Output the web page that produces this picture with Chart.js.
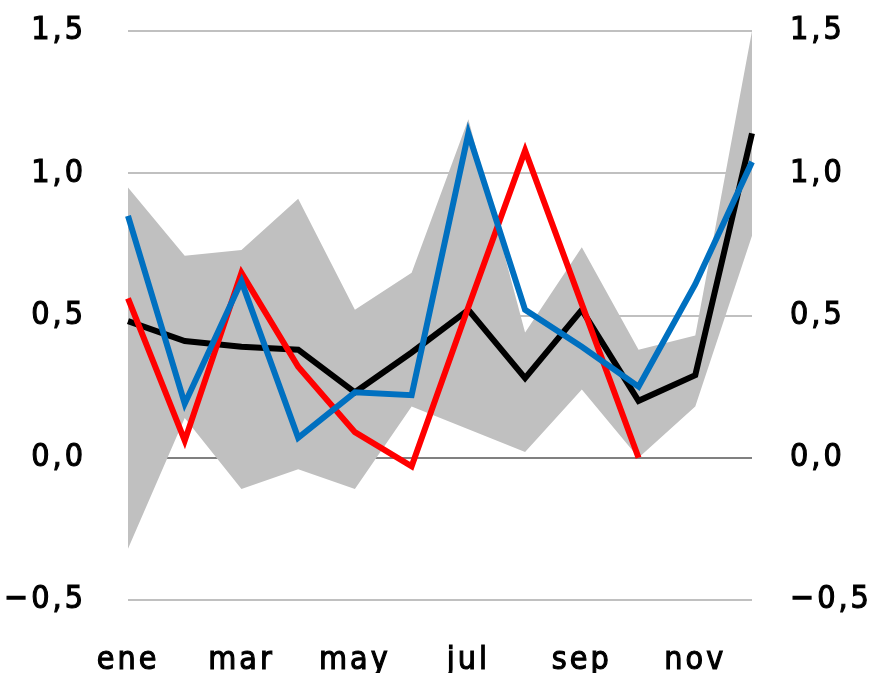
<!DOCTYPE html>
<html>
<head>
<meta charset="utf-8">
<script src="https://cdn.jsdelivr.net/npm/chart.js@4"></script>
<style>
  html, body { margin: 0; padding: 0; background: #fff; }
  #wrap { width: 871px; height: 673px; }
</style>
</head>
<body>
<div id="wrap"><canvas id="chart"></canvas></div>
<script>
const months = ['ene', 'feb', 'mar', 'abr', 'may', 'jun', 'jul', 'ago', 'sep', 'oct', 'nov', 'dic'];

// grey range band
const bandLow  = [-0.32, 0.14, -0.11, -0.04, -0.11, 0.18, 0.10, 0.02, 0.24, 0.00, 0.18, 0.78];
const bandHigh = [0.95, 0.71, 0.73, 0.91, 0.52, 0.65, 1.19, 0.44, 0.74, 0.38, 0.43, 1.50];

const blackSeries = [0.48, 0.41, 0.39, 0.38, 0.23, 0.37, 0.52, 0.28, 0.52, 0.20, 0.29, 1.14];
const redSeries   = [0.56, 0.06, 0.65, 0.32, 0.09, -0.03, 0.53, 1.08, 0.54, 0.00, null, null];
const blueSeries  = [0.85, 0.19, 0.62, 0.07, 0.23, 0.22, 1.14, 0.52, 0.39, 0.25, 0.61, 1.04];

const yMin = -0.5, yMax = 1.5, yStep = 0.5;

const fontFamily = '"DejaVu Sans Condensed", "DejaVu Sans", sans-serif';
const tickFont = { family: fontFamily, size: 32 };

function fmt(v) {
    return v.toFixed(1).replace('.', ',').replace('-', '\u2212');
}

function lineSet(data, color) {
    return {
        data: data,
        borderColor: color,
        borderWidth: 6,
        pointRadius: 0,
        tension: 0,
        fill: false,
        spanGaps: false,
        yAxisID: 'y'
    };
}

// dataset 0 is drawn last (on top)
const datasets = [
    lineSet(blueSeries, '#0070c0'),
    lineSet(redSeries, '#ff0000'),
    lineSet(blackSeries, '#000000'),
    {
        data: bandHigh,
        borderWidth: 0,
        borderColor: 'rgba(0,0,0,0)',
        backgroundColor: '#c0c0c0',
        pointRadius: 0,
        tension: 0,
        fill: 4,
        yAxisID: 'y'
    },
    {
        data: bandLow,
        borderWidth: 0,
        borderColor: 'rgba(0,0,0,0)',
        pointRadius: 0,
        tension: 0,
        fill: false,
        yAxisID: 'y'
    }
];

function gridColor(ctx) {
    return ctx.tick && ctx.tick.value === 0 ? '#808080' : '#c0c0c0';
}

// wider letter spacing like the original labels
const spacing = {
    id: 'spacing',
    beforeDraw(chart) { chart.ctx.letterSpacing = '3px'; }
};

new Chart(document.getElementById('chart'), {
    type: 'line',
    data: { labels: months, datasets: datasets },
    plugins: [spacing],
    options: {
        responsive: true,
        maintainAspectRatio: false,
        animation: false,
        layout: { padding: { top: 31, left: 0, right: 0, bottom: 0 } },
        plugins: {
            legend: { display: false },
            tooltip: { enabled: false }
        },
        scales: {
            x: {
                offset: false,
                grid: { display: false, drawTicks: false },
                border: { display: false },
                ticks: {
                    autoSkip: false,
                    maxRotation: 0,
                    padding: 41,
                    color: '#000',
                    textStrokeColor: '#000',
                    textStrokeWidth: 1.1,
                    font: tickFont,
                    callback: function(value, index) {
                        return index % 2 === 0 ? months[index] : '';
                    }
                },
                afterFit: function(scale) { scale.height = 73; }
            },
            y: {
                position: 'left',
                min: yMin,
                max: yMax,
                grid: { color: gridColor, lineWidth: 2, drawTicks: true, tickLength: 42, tickColor: 'rgba(0,0,0,0)' },
                border: { display: false },
                ticks: {
                    stepSize: yStep,
                    padding: 0,
                    color: '#000',
                    textStrokeColor: '#000',
                    textStrokeWidth: 1.1,
                    font: tickFont,
                    callback: function(v) { return fmt(v); }
                },
                afterFit: function(scale) { scale.width = 128; }
            },
            y2: {
                position: 'right',
                min: yMin,
                max: yMax,
                grid: { display: false, drawTicks: true, tickLength: 38, tickColor: 'rgba(0,0,0,0)' },
                border: { display: false },
                ticks: {
                    stepSize: yStep,
                    padding: 0,
                    color: '#000',
                    textStrokeColor: '#000',
                    textStrokeWidth: 1.1,
                    font: tickFont,
                    callback: function(v) { return fmt(v); }
                },
                afterFit: function(scale) { scale.width = 119; }
            }
        }
    }
});
</script>
</body>
</html>
